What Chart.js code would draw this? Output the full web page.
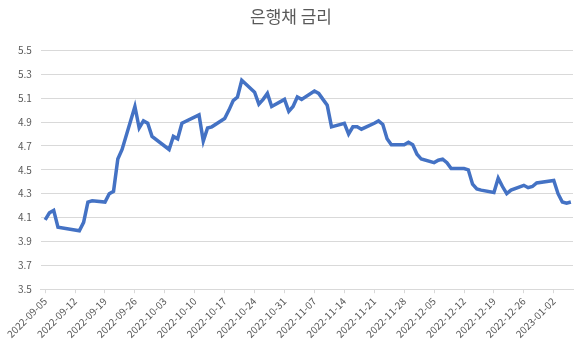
<!DOCTYPE html>
<html>
<head>
<meta charset="utf-8">
<script src="https://cdn.jsdelivr.net/npm/chart.js@4.4.0/dist/chart.umd.min.js"></script>
<style>
  html, body { margin: 0; padding: 0; background: #fff; }
  #wrap { width: 579px; height: 351px; }
</style>
</head>
<body>
<div id="wrap"><canvas id="chart"></canvas></div>
<script>
// 은행채 금리 — daily values, plotted on a date axis
const dates = [
	'2022-09-05', '2022-09-06', '2022-09-07', '2022-09-08', '2022-09-13', '2022-09-14',
	'2022-09-15', '2022-09-16', '2022-09-19', '2022-09-20', '2022-09-21', '2022-09-22',
	'2022-09-23', '2022-09-26', '2022-09-27', '2022-09-28', '2022-09-29', '2022-09-30',
	'2022-10-04', '2022-10-05', '2022-10-06', '2022-10-07', '2022-10-11', '2022-10-12',
	'2022-10-13', '2022-10-14', '2022-10-17', '2022-10-18', '2022-10-19', '2022-10-20',
	'2022-10-21', '2022-10-24', '2022-10-25', '2022-10-26', '2022-10-27', '2022-10-28',
	'2022-10-31', '2022-11-01', '2022-11-02', '2022-11-03', '2022-11-04', '2022-11-07',
	'2022-11-08', '2022-11-09', '2022-11-10', '2022-11-11', '2022-11-14', '2022-11-15',
	'2022-11-16', '2022-11-17', '2022-11-18', '2022-11-21', '2022-11-22', '2022-11-23',
	'2022-11-24', '2022-11-25', '2022-11-28', '2022-11-29', '2022-11-30', '2022-12-01',
	'2022-12-02', '2022-12-05', '2022-12-06', '2022-12-07', '2022-12-08', '2022-12-09',
	'2022-12-12', '2022-12-13', '2022-12-14', '2022-12-15', '2022-12-16', '2022-12-19',
	'2022-12-20', '2022-12-21', '2022-12-22', '2022-12-23', '2022-12-26', '2022-12-27',
	'2022-12-28', '2022-12-29', '2023-01-02', '2023-01-03', '2023-01-04', '2023-01-05',
	'2023-01-06',
];

const rates = [
	4.08, 4.14, 4.16, 4.02, 3.99, 4.06,
	4.23, 4.24, 4.23, 4.30, 4.32, 4.59,
	4.67, 5.03, 4.85, 4.91, 4.89, 4.78,
	4.67, 4.78, 4.76, 4.89, 4.96, 4.74,
	4.85, 4.86, 4.93, 5.00, 5.08, 5.11,
	5.25, 5.15, 5.05, 5.09, 5.14, 5.03,
	5.09, 4.99, 5.03, 5.11, 5.09, 5.16,
	5.14, 5.09, 5.04, 4.86, 4.89, 4.80,
	4.86, 4.86, 4.84, 4.89, 4.91, 4.88,
	4.76, 4.71, 4.71, 4.73, 4.71, 4.63,
	4.59, 4.56, 4.58, 4.59, 4.56, 4.51,
	4.51, 4.50, 4.38, 4.34, 4.33, 4.31,
	4.43, 4.36, 4.30, 4.33, 4.37, 4.35,
	4.36, 4.39, 4.41, 4.30, 4.23, 4.22,
	4.23,
];

const tickDates = [
	'2022-09-05', '2022-09-12', '2022-09-19', '2022-09-26', '2022-10-03', '2022-10-10',
	'2022-10-17', '2022-10-24', '2022-10-31', '2022-11-07', '2022-11-14', '2022-11-21',
	'2022-11-28', '2022-12-05', '2022-12-12', '2022-12-19', '2022-12-26', '2023-01-02',
];

const yMin = 3.5;
const yMax = 5.5;
const yStep = 0.2;

// day offsets from the first date, so a linear axis can act as a date axis
const DAY = 86400000;
const base = Date.parse( dates[ 0 ] );
const toDay = s => Math.round( ( Date.parse( s ) - base ) / DAY );
const dayLabel = {};
tickDates.forEach( s => { dayLabel[ toDay( s ) ] = s; } );

const GRID = '#d9d9d9';
const TEXT = '#595959';
const BLUE = '#4472c4';
const FONT = '"Noto Sans CJK KR", "Noto Sans", sans-serif';

new Chart( document.getElementById( 'chart' ), {
	type: 'line',
	data: {
		datasets: [ {
			label: '은행채 금리',
			data: dates.map( ( d, i ) => ( { x: toDay( d ), y: rates[ i ] } ) ),
			borderColor: BLUE,
			borderWidth: 3.5,
			pointRadius: 0,
			tension: 0,
			fill: false,
		} ],
	},
	options: {
		responsive: true,
		maintainAspectRatio: false,
		animation: false,
		layout: { padding: { left: 9, right: 6, top: 0, bottom: 9 } },
		plugins: {
			legend: { display: false },
			tooltip: { enabled: false },
			title: {
				display: true,
				text: '은행채 금리',
				color: TEXT,
				font: { family: FONT, size: 17, weight: 'normal' },
				padding: { top: 6, bottom: 24 },
			},
		},
		scales: {
			x: {
				type: 'linear',
				min: -1,
				max: 123.5,
				afterBuildTicks: scale => {
					scale.ticks = tickDates.map( s => ( { value: toDay( s ) } ) );
				},
				ticks: {
					autoSkip: false,
					maxRotation: 45,
					minRotation: 45,
					color: TEXT,
					font: { family: FONT, size: 10 },
					padding: 2,
					callback: v => dayLabel[ v ] || '',
				},
				grid: { drawOnChartArea: false, color: GRID, tickLength: 4 },
				border: { color: GRID },
			},
			y: {
				min: yMin,
				max: yMax,
				ticks: {
					stepSize: yStep,
					color: TEXT,
					font: { family: FONT, size: 10 },
					padding: 9,
					callback: v => v.toFixed( 1 ),
				},
				grid: { color: GRID, drawTicks: false },
				border: { display: false },
			},
		},
	},
} );
</script>
</body>
</html>
